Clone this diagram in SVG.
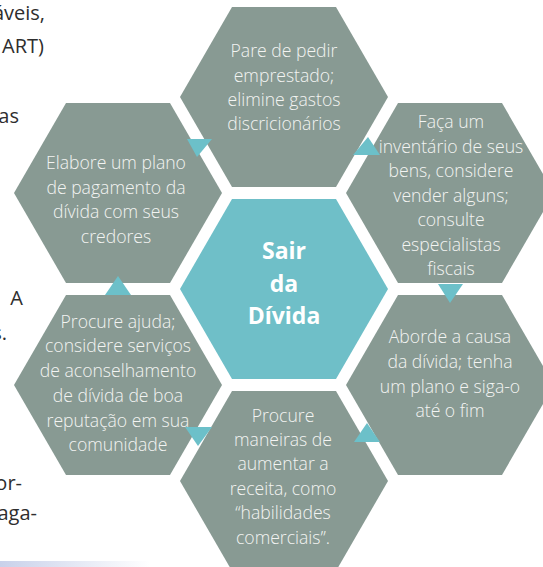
<svg xmlns="http://www.w3.org/2000/svg" width="543" height="567" viewBox="0 0 543 567">
  <defs>
    <linearGradient id="band" x1="0" y1="0" x2="1" y2="0">
      <stop offset="0" stop-color="#c9d1ea"/>
      <stop offset="1" stop-color="#ffffff"/>
    </linearGradient>
  </defs>
  <style>
    .hex { fill: #889a93; }
    .core { fill: #6fbfc8; }
    .arrow { fill: #6cc0c9; }
    .lbl { font-family: "Open Sans", "Noto Sans", sans-serif; font-weight: 300; font-size: 17.6px; fill: #f3f4f2; text-anchor: middle; }
    .title { font-family: "Open Sans", "Noto Sans", sans-serif; font-weight: 700; font-size: 23px; fill: #ffffff; text-anchor: middle; }
    .page { font-family: "Open Sans", "Noto Sans", sans-serif; font-size: 20px; fill: #2e2e2e; text-anchor: end; }
  </style>
  <rect width="543" height="567" fill="#ffffff"/>

  <!-- page text fragments at left -->
  <g id="page-text">
    <text class="page" x="45" y="20">áveis,</text>
    <text class="page" x="44" y="53">ART)</text>
    <text class="page" x="19" y="123">as</text>
    <text class="page" x="23" y="305">A</text>
    <text class="page" x="7" y="340">s.</text>
    <text class="page" x="22" y="490">or-</text>
    <text class="page" x="37" y="520">paga-</text>
  </g>
  <rect x="0" y="561" width="150" height="6" fill="url(#band)"/>

  <g id="node-top">
    <polygon class="hex" points="180,97 232,7 336,7 388,97 336,187 232,187"/>
    <text class="lbl" x="284" y="57">Pare de pedir</text>
    <text class="lbl" x="284" y="82">emprestado;</text>
    <text class="lbl" x="284" y="106">elimine gastos</text>
    <text class="lbl" x="284" y="130">discricionários</text>
  </g>

  <g id="node-upper-right">
    <polygon class="hex" points="346,193 398,103 502,103 554,193 502,283 398,283"/>
    <text class="lbl" x="451" y="128">Faça um</text>
    <text class="lbl" x="451" y="153">inventário de seus</text>
    <text class="lbl" x="451" y="177">bens, considere</text>
    <text class="lbl" x="451" y="202">vender alguns;</text>
    <text class="lbl" x="451" y="226">consulte</text>
    <text class="lbl" x="451" y="251">especialistas</text>
    <text class="lbl" x="451" y="275">fiscais</text>
  </g>

  <g id="node-lower-right">
    <polygon class="hex" points="346,385 398,295 502,295 554,385 502,475 398,475"/>
    <text class="lbl" x="450" y="343">Aborde a causa</text>
    <text class="lbl" x="450" y="368">da dívida; tenha</text>
    <text class="lbl" x="450" y="393">um plano e siga-o</text>
    <text class="lbl" x="450" y="417">até o fim</text>
  </g>

  <g id="node-bottom">
    <polygon class="hex" points="180,481 232,391 336,391 388,481 336,571 232,571"/>
    <text class="lbl" x="283" y="422">Procure</text>
    <text class="lbl" x="283" y="446">maneiras de</text>
    <text class="lbl" x="283" y="470">aumentar a</text>
    <text class="lbl" x="283" y="495">receita, como</text>
    <text class="lbl" x="283" y="519">“habilidades</text>
    <text class="lbl" x="283" y="544">comerciais”.</text>
  </g>

  <g id="node-lower-left">
    <polygon class="hex" points="14,385 66,295 170,295 222,385 170,475 66,475"/>
    <text class="lbl" x="118" y="328">Procure ajuda;</text>
    <text class="lbl" x="118" y="352">considere serviços</text>
    <text class="lbl" x="118" y="377">de aconselhamento</text>
    <text class="lbl" x="118" y="402">de dívida de boa</text>
    <text class="lbl" x="118" y="427">reputação em sua</text>
    <text class="lbl" x="118" y="451">comunidade</text>
  </g>

  <g id="node-upper-left">
    <polygon class="hex" points="14,193 66,103 170,103 222,193 170,283 66,283"/>
    <text class="lbl" x="116" y="169">Elabore um plano</text>
    <text class="lbl" x="116" y="194">de pagamento da</text>
    <text class="lbl" x="116" y="218">dívida com seus</text>
    <text class="lbl" x="116" y="243">credores</text>
  </g>

  <g id="node-center">
    <polygon class="core" points="180,289 232,199 336,199 388,289 336,379 232,379"/>
    <text class="title" x="284" y="259">Sair</text>
    <text class="title" x="284" y="292">da</text>
    <text class="title" x="284" y="324">Dívida</text>
  </g>

  <g id="connectors">
    <polygon class="arrow" points="187,139 212,139 197,157"/>
    <polygon class="arrow" points="368,137 353,155 380,155"/>
    <polygon class="arrow" points="438,284 463,284 450,303"/>
    <polygon class="arrow" points="367,423 354,442 380,442"/>
    <polygon class="arrow" points="185,427 212,427 198,446"/>
    <polygon class="arrow" points="118,276 105,295 131,295"/>
  </g>
</svg>
